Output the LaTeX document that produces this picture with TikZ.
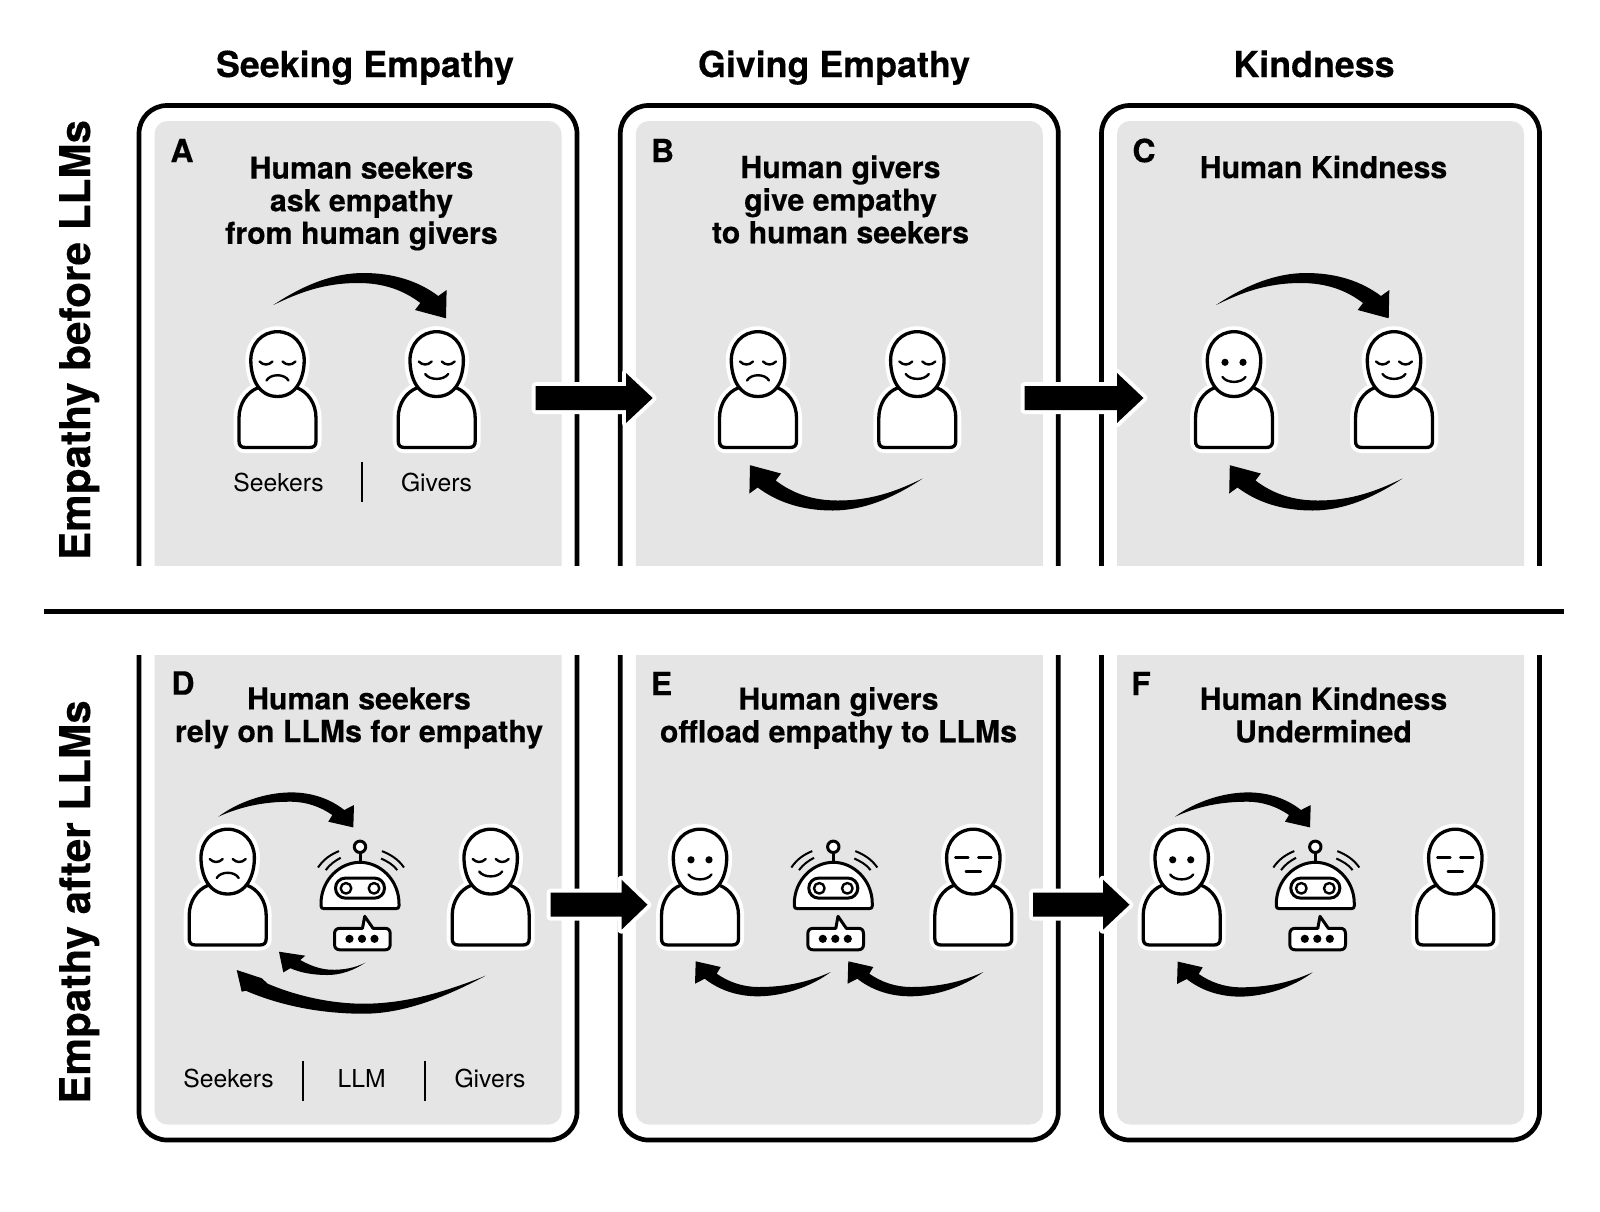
\documentclass[tikz,border=0pt]{standalone}
\usepackage{fontspec}
\setmainfont[BoldFeatures={FakeBold=0.35}]{TeX Gyre Heros}
\makeatletter
\newcommand\swoosh[4]{%
  \pgfpointdiff{\pgfpointanchor{#2}{center}}{\pgfpointanchor{#3}{center}}%
  \pgfmathsetmacro\swS{\the\pgf@x/#4}%
  \fill[black,shift={(#2)},scale=\swS] #1;}
\makeatother
\newcommand\swMain{(0,0) .. controls (30,-20) and (60,-32) .. (90,-32) .. controls (120,-32) and (145,-24) .. (165,-9) -- (173.3,-15) -- (172.7,13.3) -- (141.7,5) -- (147,-2) .. controls (130,-15) and (110,-22) .. (85,-22) .. controls (50,-22) and (25,-12) .. (0,0) -- cycle}
\newcommand\swMid{(0,0) .. controls (20,-15) and (48,-24.3) .. (73,-24.3) .. controls (95,-24.3) and (113,-17) .. (126,-6.7) -- (135.7,-11.7) -- (135,10.7) -- (110,5) -- (114,-1.7) .. controls (102,-10) and (88,-15) .. (72,-15) .. controls (45,-15) and (22,-10) .. (0,0) -- cycle}
\newcommand\swSmall{(0,0) .. controls (-12,8) and (-25,12.3) .. (-38,12.3) .. controls (-52,12.3) and (-65,10) .. (-75,5.5) -- (-82,9.7) -- (-86.3,-11) -- (-60,-7) -- (-65,-2.7) .. controls (-55,3) and (-45,6.5) .. (-35,7) .. controls (-22,7.5) and (-10,5) .. (0,0) -- cycle}
\newcommand\swBig{(0,0) .. controls (-45,24) and (-85,38) .. (-122,38) .. controls (-165,38) and (-205,30) .. (-240,15) -- (-244,16) -- (-249,-5.7) -- (-224,2.5) -- (-218,8) .. controls (-190,20) and (-155,28) .. (-122,28) .. controls (-80,28) and (-40,16) .. (0,0) -- cycle}
\tikzset{
  frameline/.style={draw=black,line width=4.7pt,fill=white},
  graybox/.style={fill=panelgray},
  persline/.style={draw=black,line width=3.3pt,fill=white,line join=round},
  halo/.style={draw=white,line width=11pt,fill=white,line join=round},
  facel/.style={draw=black,line width=2.4pt,line cap=round},
  robl/.style={draw=black,line width=3pt,fill=white,line join=round},
  sepline/.style={draw=black,line width=2.2pt},
  coltitle/.style={font=\bfseries\fontsize{35.8}{40}\selectfont,inner sep=0pt,anchor=base},
  rowtitle/.style={font=\bfseries\fontsize{42.2}{46}\selectfont,inner sep=0pt,rotate=90,anchor=base},
  subt/.style={font=\bfseries\fontsize{30.3}{32.6}\selectfont,align=center,inner sep=0pt},
  letter/.style={font=\bfseries\fontsize{32}{34}\selectfont,inner sep=0pt},
  lab/.style={font=\fontsize{24.7}{28}\selectfont,inner sep=0pt},
}
\definecolor{panelgray}{gray}{0.90}
% panel: name, left x, top y, bottom y, clip top, clip bottom
\newcommand\panel[6]{%
  \begin{scope}
    \clip (#2-10,#5) rectangle (#2+450,#6);
    \draw[frameline,rounded corners=28pt] (#2,#3) rectangle (#2+438,#4);
    \fill[graybox,rounded corners=13pt] (#2+15.5,#3+15.5) rectangle (#2+438-15.5,#4-15.5);
  \end{scope}
  \coordinate (#1) at (#2+219,#5/2+#6/2);}
\newcommand\facesad{%
  \draw[facel] (-18,31.5) .. controls (-14,35.5) and (-9,35.5) .. (-5,31.5);
  \draw[facel] (18,31.5) .. controls (14,35.5) and (9,35.5) .. (5,31.5);
  \draw[facel] (-11,50.5) .. controls (-7,43.5) and (7,43.5) .. (11,50.5);}
\newcommand\facecalm{%
  \draw[facel] (-18,31.5) .. controls (-14,35.5) and (-9,35.5) .. (-5,31.5);
  \draw[facel] (18,31.5) .. controls (14,35.5) and (9,35.5) .. (5,31.5);
  \draw[facel] (-11.5,44) .. controls (-7,50.5) and (7,50.5) .. (11.5,44);}
\newcommand\facesmile{%
  \fill[black] (-9,32.3) circle[radius=3.6];
  \fill[black] (9,32.3) circle[radius=3.6];
  \draw[facel] (-11.5,47) .. controls (-7,53.5) and (7,53.5) .. (11.5,47);}
\newcommand\faceflat{%
  \draw[facel] (-18,30) -- (-5,30);
  \draw[facel] (18,30) -- (5,30);
  \draw[facel] (-7.5,44) -- (7.5,44);}
\newcommand\persbody{(-38.5,88) .. controls (-38.5,73) and (-30,62) .. (-20,58) -- (20,58) .. controls (30,62) and (38.5,73) .. (38.5,88) -- (38.5,111) .. controls (38.5,115.5) and (36.5,117.5) .. (32,117.5) -- (-32,117.5) .. controls (-36.5,117.5) and (-38.5,115.5) .. (-38.5,111) -- cycle}
\newcommand\pershead{(0,1.7) .. controls (15.5,1.7) and (26.7,14) .. (26.7,30) .. controls (26.7,48) and (19,66.5) .. (0,66.5) .. controls (-19,66.5) and (-26.7,48) .. (-26.7,30) .. controls (-26.7,14) and (-15.5,1.7) .. (0,1.7) -- cycle}
% person: name, centre x, top y, face
\newcommand\person[4]{%
  \begin{scope}[shift={(#2,#3)}]
    \path[halo] \persbody;
    \path[halo] \pershead;
    \path[persline] \persbody;
    \path[persline] \pershead;
    #4
    \node[minimum width=80pt,minimum height=118pt,inner sep=0pt] (#1) at (0,60) {};
  \end{scope}}
% robot: name, centre x, antenna y
\newcommand\robot[3]{%
  \begin{scope}[shift={(#2,#3)}]
    \draw[robl] (0,5.5) -- (0,15.5);
    \draw[robl] (0,0) circle[radius=5.7];
    \path[robl] (-39,57) .. controls (-39,33) and (-20,15.5) .. (0,15.5) .. controls (20,15.5) and (39,33) .. (39,57) -- (39,59) .. controls (39,61) and (38,61.8) .. (36,61.8) -- (-36,61.8) .. controls (-38,61.8) and (-39,61) .. (-39,59) -- cycle;
    \draw[robl,rounded corners=9.8pt] (-24.5,31.3) rectangle (24.5,51.3);
    \draw[robl,line width=2.4pt] (-14,41.5) circle[radius=5.3];
    \draw[robl,line width=2.4pt] (14,41.5) circle[radius=5.3];
    \draw[facel,line width=2pt,line cap=butt] (-42,20.7) .. controls (-36,12) and (-29,7.5) .. (-21,4.3);
    \draw[facel,line width=2pt,line cap=butt] (-34.3,23.3) .. controls (-30,17.5) and (-25,14) .. (-19.3,11);
    \draw[facel,line width=2pt,line cap=butt] (44,20.7) .. controls (38,12) and (30,7.5) .. (22,4.3);
    \draw[facel,line width=2pt,line cap=butt] (37.3,23.3) .. controls (33,17.5) and (27,14.5) .. (21,11.7);
    \path[robl] (-20,81.5) -- (2.5,81.5) -- (4.7,69.5) -- (13,81.5) -- (25,81.5) .. controls (28.5,81.5) and (30.2,83.5) .. (30.2,87) -- (30.2,97.5) .. controls (30.2,101) and (28.5,103) .. (25,103) -- (-20,103) .. controls (-23.5,103) and (-25.5,101) .. (-25.5,97.5) -- (-25.5,87) .. controls (-25.5,83.5) and (-23.5,81.5) .. (-20,81.5) -- cycle;
    \fill[black] (-10.5,92) circle[radius=4.1];
    \fill[black] (2,92) circle[radius=4.1];
    \fill[black] (14.5,92) circle[radius=4.1];
    \node[minimum width=80pt,minimum height=104pt,inner sep=0pt] (#1) at (0,52) {};
  \end{scope}}
% transition arrow: from coordinate, tip coordinate, head base x
\newcommand\trans[3]{%
  \path[draw=white,line width=8pt,line join=round,fill=white] ($(#1|-#2)+(0,-12)$) -- ($(#3,0|-#2)+(0,-12)$) -- ($(#3,0|-#2)+(0,-25)$) -- (#2) -- ($(#3,0|-#2)+(0,25)$) -- ($(#3,0|-#2)+(0,12)$) -- ($(#1|-#2)+(0,12)$) -- cycle;
  \fill[black] ($(#1|-#2)+(0,-12)$) -- ($(#3,0|-#2)+(0,-12)$) -- ($(#3,0|-#2)+(0,-25)$) -- (#2) -- ($(#3,0|-#2)+(0,25)$) -- ($(#3,0|-#2)+(0,12)$) -- ($(#1|-#2)+(0,12)$) -- cycle;}
\usetikzlibrary{calc}
\begin{document}
\begin{tikzpicture}[x=1pt,y=-1pt]
\useasboundingbox (0,0) rectangle (1600,1211);
\fill[white] (0,0) rectangle (1600,1211);

\panel{pA}{139}{105.5}{700}{95}{565}
\panel{pB}{620.3}{105.5}{700}{95}{565}
\panel{pC}{1101.5}{105.5}{700}{95}{565}
\panel{pD}{139}{560}{1140}{655}{1150}
\panel{pE}{620.3}{560}{1140}{655}{1150}
\panel{pF}{1101.5}{560}{1140}{655}{1150}

% divider
\coordinate (divL) at (44,611.5);
\coordinate (divR) at (1564,611.5);
\draw[black,line width=4.2pt] (divL) -- (divR);

% headings
\node[coltitle] (tA) at (365,77) {Seeking Empathy};
\node[coltitle] (tB) at (834,77) {Giving Empathy};
\node[coltitle] (tC) at (1314,77) {Kindness};
\node[rowtitle] (rTop) at (90,340) {Empathy before LLMs};
\node[rowtitle] (rBot) at (90,902) {Empathy after LLMs};

% panel letters
\node[letter] (lA) at (182,150.5) {A};
\node[letter] (lB) at (662.5,150.5) {B};
\node[letter] (lC) at (1144,150.5) {C};
\node[letter] (lD) at (183,683) {D};
\node[letter] (lE) at (661.5,683.5) {E};
\node[letter] (lF) at (1141,683.5) {F};

% panel titles
\node[subt] (sA) at (361.5,203.5) {Human seekers\\ask empathy\\from human givers};
\node[subt] (sB) at (840.5,199.5) {Human givers\\give empathy\\to human seekers};
\node[subt] (sC) at (1323.5,167) {Human Kindness};
\node[subt] (sD) at (359,718) {Human seekers\\rely on LLMs for empathy};
\node[subt] (sE) at (838.5,718) {Human givers\\offload empathy to LLMs};
\node[subt] (sF) at (1323.5,715) {Human Kindness\\Undermined};

% labels
\node[lab] (la1) at (278.5,482) {Seekers};
\node[lab] (la2) at (436.5,482) {Givers};
\coordinate (sa1) at (361.7,461.7);
\coordinate (sa2) at (361.7,502);
\draw[sepline] (sa1) -- (sa2);
\node[lab] (ld1) at (228.5,1078) {Seekers};
\node[lab] (ld2) at (361.7,1078) {LLM};
\node[lab] (ld3) at (490,1078) {Givers};
\coordinate (sd1) at (303,1060.7);
\coordinate (sd2) at (303,1101);
\draw[sepline] (sd1) -- (sd2);
\coordinate (sd3) at (424.7,1060.7);
\coordinate (sd4) at (424.7,1101);
\draw[sepline] (sd3) -- (sd4);

% transition arrows
\coordinate (ab0) at (535.7,398); \coordinate (ab1) at (652.7,398); \trans{ab0}{ab1}{626}
\coordinate (bc0) at (1024.5,398); \coordinate (bc1) at (1143.5,398); \trans{bc0}{bc1}{1117}
\coordinate (de0) at (550.5,904.7); \coordinate (de1) at (647.5,904.7); \trans{de0}{de1}{621.5}
\coordinate (ef0) at (1033,904.7); \coordinate (ef1) at (1129.5,904.7); \trans{ef0}{ef1}{1103}

% people and robots
\person{a1}{277.5}{330}{\facesad}
\person{a2}{436.7}{330}{\facecalm}
\person{b1}{758}{330}{\facesad}
\person{b2}{917.3}{330}{\facecalm}
\person{c1}{1234}{330}{\facesmile}
\person{c2}{1394}{330}{\facecalm}
\person{d1}{227.7}{827.5}{\facesad}
\robot{d2}{360}{846.8}
\person{d3}{490.7}{827.5}{\facecalm}
\person{e1}{700}{827.5}{\facesmile}
\robot{e2}{833.3}{846.8}
\person{e3}{973.3}{827.5}{\faceflat}
\person{f1}{1181.7}{827.5}{\facesmile}
\robot{f2}{1315.3}{846.8}
\person{f3}{1455.3}{827.5}{\faceflat}

% curved arrows
\coordinate (A0) at (273.3,305); \coordinate (A1) at (446,318); \swoosh{\swMain}{A0}{A1}{172.7}
\coordinate (B0) at (922.7,478.5); \coordinate (B1) at (750,465); \swoosh{\swMain}{B0}{B1}{172.7}
\coordinate (C0) at (1216,305); \coordinate (C1) at (1388.7,318); \swoosh{\swMain}{C0}{C1}{172.7}
\coordinate (C2) at (1402.5,478.5); \coordinate (C3) at (1229.8,465); \swoosh{\swMain}{C2}{C3}{172.7}
\coordinate (D0) at (218.3,816.7); \coordinate (D1) at (353.3,827); \swoosh{\swMid}{D0}{D1}{135}
\coordinate (D2) at (365.3,962.7); \coordinate (D3) at (279,951.7); \swoosh{\swSmall}{D2}{D3}{-86.3}
\coordinate (D4) at (485.7,975.7); \coordinate (D5) at (236.7,970); \swoosh{\swBig}{D4}{D5}{-249}
\coordinate (E0) at (830.7,972); \coordinate (E1) at (695.7,961); \swoosh{\swMid}{E0}{E1}{135}
\coordinate (E2) at (983.3,972); \coordinate (E3) at (848.3,961); \swoosh{\swMid}{E2}{E3}{135}
\coordinate (F0) at (1175,816.7); \coordinate (F1) at (1310,827); \swoosh{\swMid}{F0}{F1}{135}
\coordinate (F2) at (1312.7,972.3); \coordinate (F3) at (1177.7,961); \swoosh{\swMid}{F2}{F3}{135}
\end{tikzpicture}
\end{document}
